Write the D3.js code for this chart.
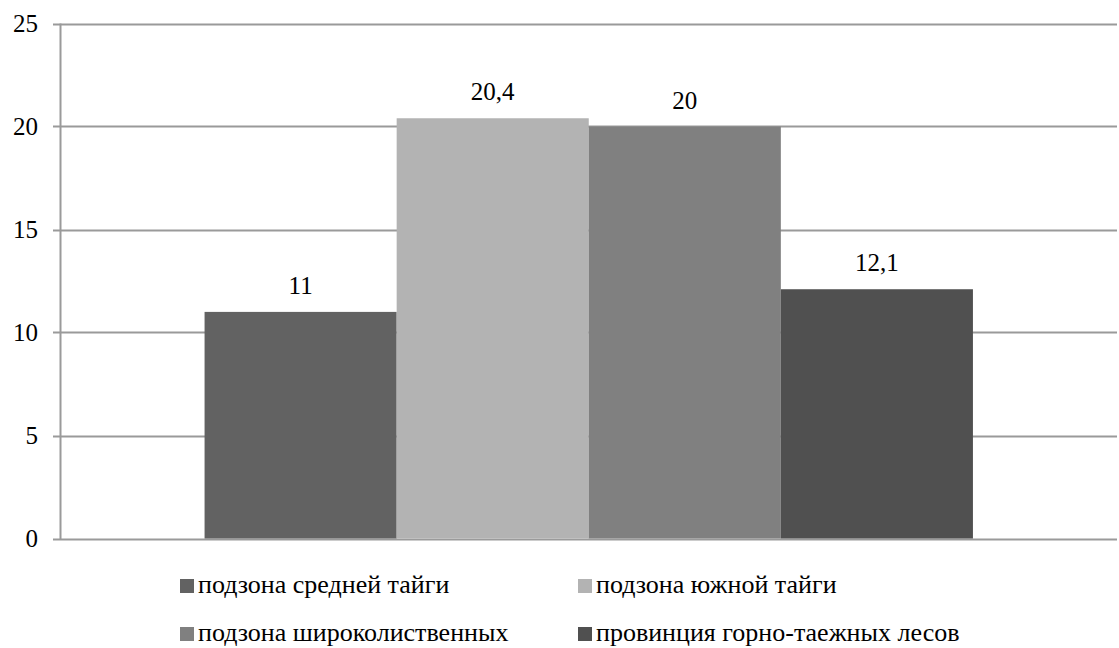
<!DOCTYPE html>
<html>
<head>
<meta charset="utf-8">
<script src="https://cdn.jsdelivr.net/npm/d3@7"></script>
<style>
  body { margin: 0; background: #fff; }
  #wrap { position: relative; width: 1119px; height: 648px; overflow: hidden; }
  #wrap svg { position: absolute; left: 0; top: 0; }
  .lbl {
    position: absolute;
    white-space: nowrap;
    line-height: 1;
    color: #000;
    font-family: "Liberation Serif", "Times New Roman", serif;
  }
</style>
</head>
<body>
<div id="wrap"><svg width="1119" height="648"></svg></div>
<script>
// Series (one category, four zones)
const seriesNames = [
  "подзона средней тайги",
  "подзона южной тайги",
  "подзона широколиственных",
  "провинция горно-таежных лесов"
];
const seriesValues = [11, 20.4, 20, 12.1];
const seriesLabels = ["11", "20,4", "20", "12,1"];
const seriesColors = ["#626262", "#b3b3b3", "#808080", "#505050"];
const yTicks = [0, 5, 10, 15, 20, 25];

const wrap = d3.select("#wrap");
const svg = wrap.select("svg");
const plot = { left: 60.5, right: 1117, top: 23.5, bottom: 538.5 };

const y = d3.scaleLinear().domain([0, 25]).range([plot.bottom, plot.top]);
const x = d3.scaleBand()
  .domain(seriesNames)
  .range([plot.left, plot.right])
  .paddingInner(0)
  .paddingOuter(0.75);

// Distance from the top of a line-height:1 box to the text baseline (Liberation Serif)
const baselineOffset = 0.8375;

// Places an HTML text label so that its baseline sits at by; anchor: start | middle | end
function label(text, bx, by, size, anchor) {
  const shift = anchor === "middle" ? "-50%" : anchor === "end" ? "-100%" : "0";
  wrap.append("div")
    .attr("class", "lbl")
    .style("font-size", size + "px")
    .style("left", bx + "px")
    .style("top", (by - baselineOffset * size) + "px")
    .style("transform", `translateX(${shift})`)
    .text(text);
}

// Horizontal gridlines with outside tick marks
svg.append("g")
  .selectAll("line")
  .data(yTicks)
  .join("line")
  .attr("x1", 53)
  .attr("x2", plot.right)
  .attr("y1", d => Math.round(y(d)) + 0.5)
  .attr("y2", d => Math.round(y(d)) + 0.5)
  .attr("stroke", "#9a9a9a")
  .attr("stroke-width", 2);

// Bars
svg.append("g")
  .selectAll("rect")
  .data(seriesValues)
  .join("rect")
  .attr("x", (d, i) => x(seriesNames[i]))
  .attr("width", x.bandwidth())
  .attr("y", d => y(d))
  .attr("height", d => y(0) - y(d))
  .attr("fill", (d, i) => seriesColors[i]);

// Vertical axis line
svg.append("line")
  .attr("x1", plot.left).attr("x2", plot.left)
  .attr("y1", plot.top).attr("y2", plot.bottom + 1)
  .attr("stroke", "#9a9a9a")
  .attr("stroke-width", 2);

// Y tick labels
yTicks.forEach(t => label(String(t), 38, y(t) + 8.5, 25, "end"));

// Value labels above bars
seriesValues.forEach((v, i) =>
  label(seriesLabels[i], x(seriesNames[i]) + x.bandwidth() / 2, y(v) - 18, 25, "middle"));

// Legend in two columns
const legendCols = [180, 578];
const legendRows = [586, 634];
seriesNames.forEach((name, i) => {
  const lx = legendCols[i % 2];
  const ly = legendRows[Math.floor(i / 2)];
  svg.append("rect")
    .attr("x", lx).attr("y", ly - 7)
    .attr("width", 14).attr("height", 14)
    .attr("fill", seriesColors[i]);
  label(name, lx + 18, ly + 8, 26, "start");
});
</script>
</body>
</html>
